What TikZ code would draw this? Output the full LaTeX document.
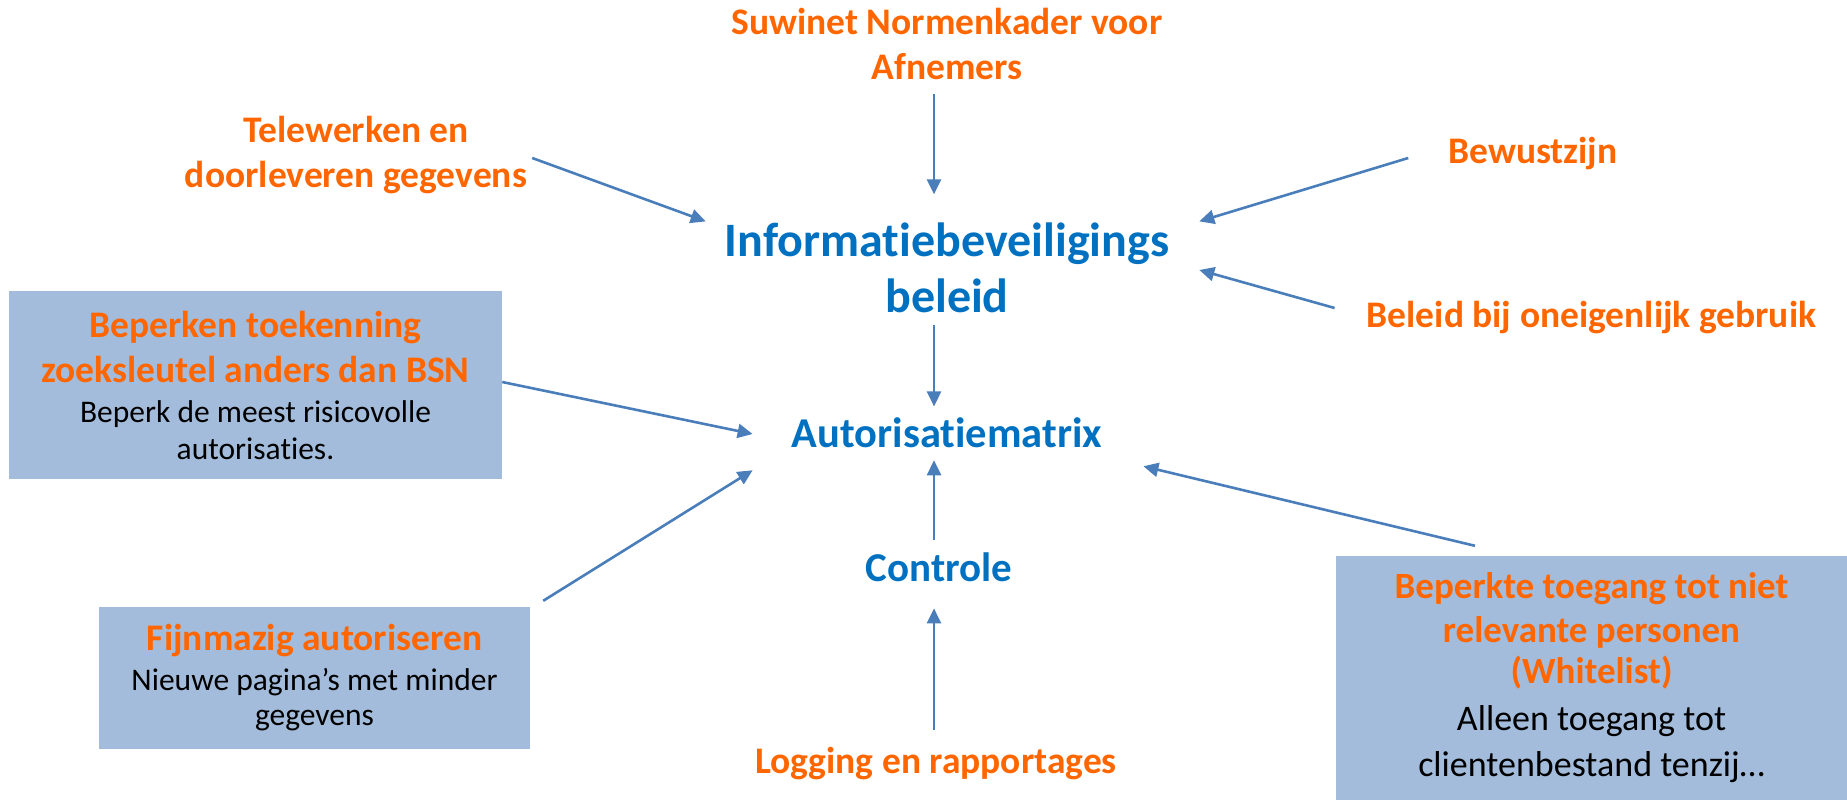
\documentclass[tikz,border=0pt]{standalone}
\usepackage{fontspec}
\setmainfont{Carlito}[Ligatures=NoCommon]
\usepackage{xcolor}
\usetikzlibrary{arrows.meta}

\definecolor{orng}{HTML}{FF6600}
\definecolor{blu}{HTML}{0070C0}
\definecolor{boxblue}{HTML}{A3BCDB}
\definecolor{arrowblue}{HTML}{4A7EBB}

\begin{document}
\begin{tikzpicture}[x=1pt,y=-1pt]
\tikzset{lbl/.style={text=orng,font=\bfseries\fontsize{37.5}{45}\selectfont,align=center,inner sep=0pt}}
\tikzset{hub/.style={text=blu,font=\bfseries\fontsize{48}{56}\selectfont,align=center,inner sep=0pt}}
\tikzset{card/.style={fill=boxblue,align=center,inner sep=0pt,font=\fontsize{37.5}{45}\selectfont}}
\tikzset{arr/.style={draw=arrowblue,line width=2.6pt,-{Triangle[length=15pt,width=14pt]}}}

\useasboundingbox (0,0) rectangle (1847,800);

% centre column
\node[lbl] (suwi) at (947,43.5) {Suwinet Normenkader voor\\Afnemers};
\node[hub] (info) at (947,268) {Informatiebeveiligings\\beleid};
\node[hub,font=\bfseries\fontsize{42.5}{50}\selectfont] (auto) at (947,433) {Autorisatiematrix};
\node[hub,font=\bfseries\fontsize{41}{50}\selectfont] (ctrl) at (939,567.6) {Controle};
\node[lbl] (logg) at (936,763.75) {Logging en rapportages};

% around the policy
\node[lbl] (tele) at (356,155) {Telewerken en\\doorleveren gegevens};
\node[lbl] (bewu) at (1533,154) {Bewustzijn};
\node[lbl] (misb) at (1591.5,317.75) {Beleid bij oneigenlijk gebruik};

% boxes
\node[card,minimum width=493pt,minimum height=188pt] (zoek) at (255.5,385)
  {{\color{orng}\bfseries Beperken toekenning}\\{\color{orng}\bfseries zoeksleutel anders dan BSN}\\[-5pt]
   {\fontsize{31.5}{37}\selectfont Beperk de meest risicovolle}\\[-8pt]{\fontsize{31.5}{37}\selectfont autorisaties.}};
\node[card,minimum width=431pt,minimum height=142pt] (fijn) at (314.5,678)
  {{\color{orng}\bfseries Fijnmazig autoriseren}\\[-5pt]
   {\fontsize{31.5}{37}\selectfont Nieuwe pagina’s met minder}\\[-10pt]{\fontsize{31.5}{37}\selectfont gegevens}};
\node[card,minimum width=511pt,minimum height=244pt,font=\fontsize{37}{44}\selectfont] (wl) at (1591.5,678)
  {{\color{orng}\bfseries Beperkte toegang tot niet}\\{\color{orng}\bfseries relevante personen}\\[-3pt]
   {\color{orng}\bfseries (Whitelist)}\\[3pt]
   {\fontsize{36}{44}\selectfont Alleen toegang tot}\\[2pt]{\fontsize{36}{44}\selectfont clientenbestand tenzij…}};

% arrows
\draw[arr] ([shift={(-13,15)}]suwi.south) -- ([shift={(-13,-28.4)}]info.north);
\draw[arr] ([shift={(5,3)}]tele.east) -- ([shift={(-19,-1.4)}]info.north west);
\draw[arr] ([shift={(-40,4)}]bewu.west) -- ([shift={(30,-1.4)}]info.north east);
\draw[arr] ([shift={(-32,-9.75)}]misb.west) -- ([shift={(30,2)}]info.east);
\draw[arr] ([shift={(-13,12)}]info.south) -- ([shift={(-13,-11.3)}]auto.north);
\draw[arr] ([shift={(0,-3)}]zoek.east) -- ([shift={(-39,1)}]auto.west);
\draw[arr] ([shift={(13,-6)}]fijn.north east) -- ([shift={(-39,22)}]auto.south west);
\draw[arr] ([shift={(-116.5,-10)}]wl.north) -- ([shift={(41,18)}]auto.south east);
\draw[arr] ([shift={(-5,-13.3)}]ctrl.north) -- ([shift={(-13,12)}]auto.south);
\draw[arr] ([shift={(-2,-17)}]logg.north) -- ([shift={(-5,26)}]ctrl.south);

\end{tikzpicture}
\end{document}
